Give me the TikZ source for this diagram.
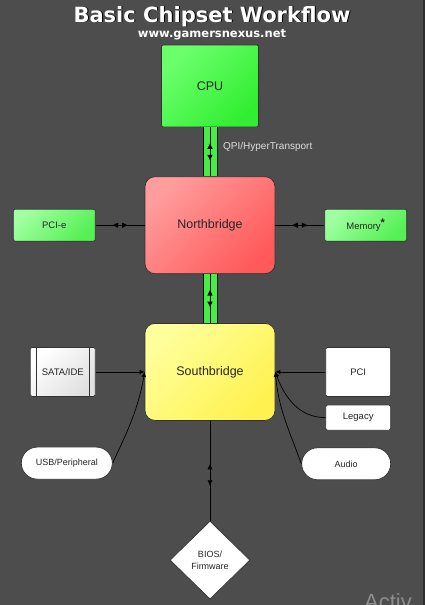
\documentclass[tikz,border=0pt]{standalone}
\usepackage{fontspec}
\setmainfont{Liberation Sans}
\newfontfamily\titlefont{DejaVu Sans}
\usepackage{xcolor}
\usepackage{tikz}
\usetikzlibrary{positioning,shapes.geometric,arrows.meta,decorations.markings}
\definecolor{bggray}{HTML}{4D4D4D}
\definecolor{edgegray}{HTML}{2E2E2E}
\definecolor{busgreen}{HTML}{44EE44}
\definecolor{marklabel}{HTML}{DDDDDD}
\definecolor{watermark}{HTML}{8C8C8C}
\tikzstyle{titletext}=[anchor=base, inner sep=0pt, text=white, font=\titlefont\bfseries\fontsize{21}{24}\selectfont]
\tikzstyle{sitetext}=[anchor=base, inner sep=0pt, text=white, font=\titlefont\bfseries\fontsize{11.5}{13}\selectfont]
\tikzstyle{chip}=[rectangle, draw=black!80, line width=0.7pt, rounded corners=10pt, text=black!85,
        minimum width=130pt, minimum height=97pt, font=\fontsize{12.5}{14}\selectfont]
\tikzstyle{cpubox}=[rectangle, draw=black!80, line width=0.7pt, rounded corners=2pt, text=black!85,
        minimum width=97pt, minimum height=82pt, font=\fontsize{12.5}{14}\selectfont,
        top color={rgb,255:red,108;green,255;blue,108}, bottom color={rgb,255:red,50;green,238;blue,50}, shading angle=45]
\tikzstyle{slot}=[rectangle, draw=black!80, line width=0.7pt, rounded corners=2pt, text=black!85,
        minimum width=82pt, minimum height=32pt, font=\fontsize{9.5}{11}\selectfont,
        top color={rgb,255:red,160;green,255;blue,160}, bottom color={rgb,255:red,85;green,240;blue,85}, shading angle=45]
\tikzstyle{port}=[rectangle, draw=black!80, line width=0.7pt, rounded corners=1.5pt, fill=white, text=black!85,
        minimum width=65pt, minimum height=49pt, font=\fontsize{9.5}{11}\selectfont]
\tikzstyle{pill}=[rectangle, draw=black!80, line width=0.7pt, rounded corners=16pt, fill=white, text=black!85,
        minimum width=91pt, minimum height=32pt, font=\fontsize{9}{11}\selectfont]
\tikzstyle{link}=[draw=black, line width=0.7pt]
\tikzset{midarrows/.style={postaction={decorate, decoration={markings,
          mark=at position 0.5 with {\fill[black] (#1,-2.6pt) -- ([xshift=5.5pt]#1,0pt) -- (#1,2.6pt) -- cycle;},
          mark=at position 0.5 with {\fill[black] (-#1,-2.6pt) -- ([xshift=-5.5pt]-#1,0pt) -- (-#1,2.6pt) -- cycle;}}}},
        midarrows/.default=2pt,
        tiparrows/.style 2 args={postaction={decorate, decoration={markings,
          mark=at position #1 with {\arrowreversed{Latex[length=5.5pt,width=5.2pt]}},
          mark=at position #2 with {\arrow{Latex[length=5.5pt,width=5.2pt]}}}}}}
\tikzstyle{bus}=[draw=black, line width=15pt,
        postaction={draw=busgreen, line width=13pt},
        postaction={draw=black, line width=0.8pt}, midarrows=3pt]

\begin{document}
\begin{tikzpicture}[x=1pt, y=1pt, node distance=49pt, >={Latex[length=5pt,width=4.5pt]}]
        \useasboundingbox (0,0) rectangle (425,-605);
        \fill[bggray] (0,0) rectangle (425,-605);
        \fill[edgegray] (422.5,0) rectangle (425,-605);
        % heading
        \node (titleshadow) at (213,-23) [titletext, text=black] {Basic Chipset Workflow};
        \node (title) at (212,-22) [titletext] {Basic Chipset Workflow};
        \node (site) at (212,-37) [sitetext] {www.gamersnexus.net};
        % processor and bridges
        \node (cpu) at (210,-86) [cpubox] {CPU};
        \node (nb) [chip, below=of cpu, top color={rgb,255:red,255;green,156;blue,156},
          bottom color={rgb,255:red,255;green,90;blue,90}, shading angle=45] {Northbridge};
        \node (sb) [chip, below=of nb, top color={rgb,255:red,255;green,255;blue,155},
          bottom color={rgb,255:red,255;green,242;blue,80}, shading angle=45] {Southbridge};
        \node (pcie) [slot, left=of nb] {PCI-e};
        \node (memory) [slot, right=of nb] {Memory\raisebox{2.5pt}{\fontsize{11}{11}\selectfont\bfseries *}};
        % southbridge devices
        \node (sata) [port, left=of sb, top color=white, bottom color=black!12, shading angle=45] {SATA/IDE};
        \draw[black!80, line width=0.7pt] ([xshift=6pt]sata.north west) -- ([xshift=6pt]sata.south west);
        \draw[black!80, line width=0.7pt] ([xshift=-6pt]sata.north east) -- ([xshift=-6pt]sata.south east);
        \node (pci) [port, right=50pt of sb] {PCI};
        \node (legacy) [port, minimum height=25pt, below=8pt of pci] {Legacy};
        \node (usb) [pill, below=50pt of sata, xshift=4pt] {USB/Peripheral};
        \node (audio) [pill, minimum width=89pt, below=17pt of legacy, xshift=-12pt] {Audio};
        \node (bios) [diamond, aspect=1, draw=black!80, line width=0.7pt, fill=white, text=black!85,
          minimum width=80pt, minimum height=78pt, inner sep=0pt, align=center,
          font=\fontsize{9}{12}\selectfont, below=100pt of sb] {BIOS/\\Firmware};
        % links
        \draw[bus] (cpu.south) -- (nb.north);
        \draw[bus] (nb.south) -- (sb.north);
        \node (qpilabel) at (223,-147) [anchor=west, inner sep=0pt, text=marklabel, font=\fontsize{10}{12}\selectfont] {QPI/HyperTransport};
        \draw[link, midarrows] (pcie) -- (nb);
        \draw[link, midarrows] (nb) -- (memory);
        \draw[link, ->] (sata) -- (sb);
        \draw[link, ->] (pci) -- (sb);
        \draw[link, ->] (legacy.west) to[out=180, in=-70] (sb.east);
        \draw[link, ->] (audio.west) to[out=110, in=-85] (sb.east);
        \draw[link, ->] (usb.east) to[out=65, in=-100] (sb.west);
        \draw[link, tiparrows={0.43}{0.65}] (sb.south) -- (bios.north);
        % screen watermark
        \node (activ) at (364,-593) [anchor=north west, inner sep=0pt, text=watermark, font=\fontsize{22}{24}\selectfont] {Activ};
\end{tikzpicture}
\end{document}
